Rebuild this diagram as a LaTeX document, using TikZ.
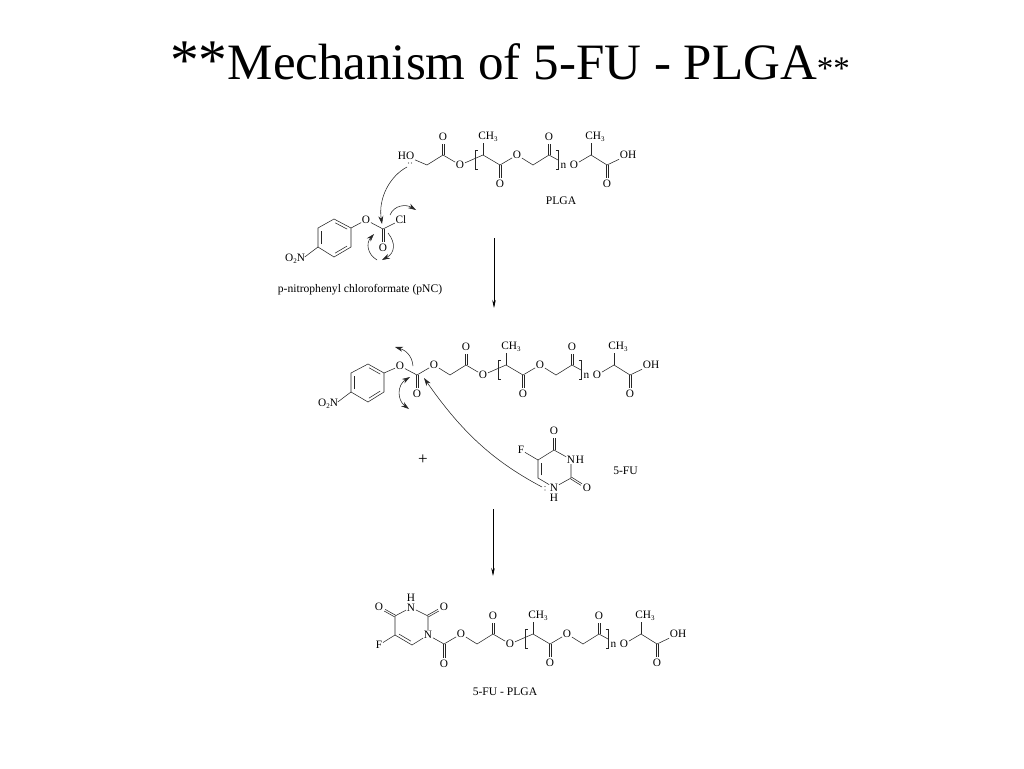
\documentclass[tikz,border=0pt]{standalone}
\usepackage{fontspec}
\setmainfont{Liberation Serif}
\usetikzlibrary{arrows.meta,calc}
\newcommand{\chemfont}{\fontsize{11.3}{12}\selectfont}
\newcommand{\sbs}[1]{\raisebox{-2.2pt}{\fontsize{7}{8}\selectfont #1}}
\newcommand{\dblbond}[2]{%
  \draw[bond,shorten >=6.5pt] ($(#1)!0.95pt!90:(#2)$) -- ($(#2)!0.95pt!-90:(#1)$);
  \draw[bond,shorten >=6.5pt] ($(#1)!0.95pt!-90:(#2)$) -- ($(#2)!0.95pt!90:(#1)$);}
\newcommand{\ringline}[2]{%
  \draw[bond] ($(#1)!.15!(#2)!2.8pt!-90:(#2)$) -- ($(#2)!.15!(#1)!2.8pt!90:(#1)$);}
\tikzset{
  atom/.style={inner sep=0.6pt,font=\chemfont},
  lab/.style={inner sep=0pt,font=\fontsize{11.6}{13}\selectfont},
  bond/.style={line width=.55pt,draw=black!85},
  brk/.style={line width=.55pt,draw=black!85},
  lonepair/.style={fill=black!70,draw=none},
  curly/.style={line width=.55pt,draw=black!85,-{Stealth[length=8pt,width=5pt]}},
  curlyboth/.style={line width=.55pt,draw=black!85,{Stealth[length=8pt,width=5pt]}-{Stealth[length=8pt,width=5pt]}},
  rxn/.style={line width=.6pt,draw=black,-{Stealth[length=8pt,width=3.5pt]}},
  chain/.pic={
    \node[atom] (-o1) at (0,0) {O};
    \coordinate (-ch2a) at (-33,0);
    \coordinate (-ca) at (-17,-10);
    \node[atom] (-oa) at (-17,-28) {O};
    \coordinate (-ch) at (23,-10);
    \node[atom] (-me) at (28,-28) {CH\sbs{3}};
    \coordinate (-cb) at (40,0);
    \node[atom] (-ob) at (40,19) {O};
    \node[atom] (-o2) at (57,-10) {O};
    \coordinate (-ch2b) at (73,0);
    \coordinate (-cc) at (89,-10);
    \node[atom] (-oc) at (89,-28) {O};
    \coordinate (-br) at (98,-5);
    \node[atom] (-n) at (103.5,1) {n};
    \node[atom] (-o3) at (114,0) {O};
    \coordinate (-ch3) at (131,-10);
    \node[atom] (-me2) at (135,-28) {CH\sbs{3}};
    \coordinate (-cd) at (147,0);
    \node[atom] (-od) at (147,19) {O};
    \node[atom] (-oh) at (168,-10) {OH};
    \draw[bond] (-ch2a) -- (-ca) -- (-o1) -- (-ch) -- (-cb) -- (-o2) -- (-ch2b) -- (-cc) -- (-br);
    \draw[bond] (-o3) -- (-ch3) -- (-cd) -- (-oh);
    \draw[bond] (-ch) -- (-ch |- -me.south);
    \draw[bond] (-ch3) -- (-ch3 |- -me2.south);
    \dblbond{-ca}{-oa}
    \dblbond{-cb}{-ob}
    \dblbond{-cc}{-oc}
    \dblbond{-cd}{-od}
    \draw[brk] (17.5,-15) -- (15,-15) -- (15,4) -- (17.5,4);
    \draw[brk] (95.5,-15) -- (98,-15) -- (98,4) -- (95.5,4);
  }
}
\begin{document}
\begin{tikzpicture}[x=1pt,y=-1pt]
\useasboundingbox (0,0) rectangle (1024,768);
\fill[white] (0,0) rectangle (1024,768);

% title
\node[inner sep=0pt,anchor=base west] (title) at (170,79) {\fontsize{57.5}{60}\selectfont **\fontsize{51}{56}\selectfont Mechanism of 5-FU - PLGA\fontsize{33}{36}\selectfont **};

% ---- top chain
\pic (t) at (460,165) {chain};
\node[atom] (ho) at (406,156) {HO};
\draw[bond] (ho) -- (t-ch2a);
\node[lab] (plga) at (561,201) {PLGA};
\fill[lonepair] (408.5,163) circle (.55pt) (411.5,163) circle (.55pt);

% pNC
\coordinate (a1) at (334,219);
\coordinate (a2) at (351,228);
\coordinate (a3) at (351,247);
\coordinate (a4) at (334,257);
\coordinate (a5) at (318,247);
\coordinate (a6) at (318,228);
\node[atom] (ano2) at (295,259) {O\sbs{2}N};
\node[atom] (ao) at (366,220) {O};
\coordinate (ac) at (383,229);
\node[atom] (aoc) at (383,248) {O};
\node[atom] (acl) at (401,220) {Cl};
\draw[bond] (a1) -- (a2) -- (a3) -- (a4) -- (a5) -- (a6) -- cycle;
\ringline{a1}{a2}
\ringline{a3}{a4}
\ringline{a5}{a6}
\draw[bond] (ano2.east) ++(-1,-2) -- (a5);
\draw[bond] (a2) -- (ao) -- (ac) -- (acl);
\dblbond{ac}{aoc}
\node[lab] (pnc) at (360,290) {p-nitrophenyl chloroformate (pNC)};

\coordinate (af1) at (407,167);
\coordinate (af2) at (382,224);
\coordinate (ag1) at (390,215);
\coordinate (ag2) at (416,210);
\coordinate (ah1) at (377,260);
\coordinate (ah2) at (374,234);
\coordinate (ai1) at (388,233);
\coordinate (ai2) at (382,260);
\draw[curly] (af1) .. controls (390,176) and (378,198) .. (af2);
\draw[curly] (ag1) .. controls (394,205) and (406,204) .. (ag2);
\draw[curly] (ah1) .. controls (367,254) and (366,243) .. (ah2);
\draw[curly] (ai1) .. controls (396,243) and (395,253) .. (ai2);

% arrow 1
\coordinate (r1a) at (494,238);
\coordinate (r1b) at (494,308);
\draw[rxn] (r1a) -- (r1b);

% ---- middle chain
\pic (m) at (483,375) {chain};
\coordinate (b1) at (368,364);
\coordinate (b2) at (384,373);
\coordinate (b3) at (384,392);
\coordinate (b4) at (368,402);
\coordinate (b5) at (351,392);
\coordinate (b6) at (351,373);
\node[atom] (bno2) at (328,404) {O\sbs{2}N};
\node[atom] (bo) at (400,366) {O};
\coordinate (bc) at (417,375);
\node[atom] (boc) at (417,394) {O};
\node[atom] (bo2) at (434,365) {O};
\draw[bond] (b1) -- (b2) -- (b3) -- (b4) -- (b5) -- (b6) -- cycle;
\ringline{b1}{b2}
\ringline{b3}{b4}
\ringline{b5}{b6}
\draw[bond] (bno2.east) ++(-1,-2) -- (b5);
\draw[bond] (b2) -- (bo) -- (bc) -- (bo2) -- (m-ch2a);
\dblbond{bc}{boc}

\coordinate (bf1) at (413,366);
\coordinate (bf2) at (395,347);
\coordinate (bg1) at (410,377);
\coordinate (bg2) at (409,409);
\draw[curly] (bf1) .. controls (412,355) and (405,350) .. (bf2);
\draw[curlyboth] (bg1) .. controls (397,385) and (397,400) .. (bg2);

\node[font=\fontsize{17}{18}\selectfont,inner sep=0pt] (plus) at (423,460) {+};

% 5-FU
\node[atom] (fo4) at (554,431) {O};
\coordinate (fc4) at (554,450);
\node[atom] (fn3) at (571,459.5) {N};
\node[atom] (fh3) at (580,459.5) {H};
\coordinate (fc2) at (571,478);
\node[atom] (fo2) at (587,488) {O};
\node[atom] (fn1) at (554,487.5) {N};
\node[atom] (fh) at (554,497.5) {H};
\coordinate (fc6) at (538,478);
\coordinate (fc5) at (538,460);
\node[atom] (ff) at (521,450) {F};
\node[lab] (fulab) at (625.5,471) {5-FU};
\draw[bond] (fc4) -- (fn3) -- (fc2) -- (fn1) -- (fc6);
\draw[bond] (fc6) -- (fc5) -- (fc4);
\draw[bond] (fc5) -- (ff);
\dblbond{fc4}{fo4}
\dblbond{fc2}{fo2}
\ringline{fc6}{fc5}
\fill[lonepair] (545,486.5) circle (.55pt) (545,490) circle (.55pt);
\coordinate (ff1) at (542,487);
\coordinate (ff2) at (424,378);
\draw[curly] (ff1) .. controls (495,462) and (463,434) .. (ff2);

% arrow 2
\coordinate (r2a) at (493,509);
\coordinate (r2b) at (493,576);
\draw[rxn] (r2a) -- (r2b);

% ---- bottom chain
\pic (b) at (510,644) {chain};
\node[atom] (un3) at (411,607.5) {N};
\node[atom] (uh) at (411,597.5) {H};
\node[atom] (uo4) at (379,607) {O};
\coordinate (uc4) at (395,616);
\coordinate (uc2) at (428,616);
\node[atom] (uo2) at (444,607) {O};
\node[atom] (un1) at (428,635) {N};
\coordinate (uc6) at (412,645);
\coordinate (uc5) at (395,635);
\node[atom] (uf) at (379,645) {F};
\coordinate (uc) at (444,644);
\node[atom] (uoc) at (444,664) {O};
\node[atom] (uo) at (461,634) {O};
\draw[bond] (uc4) -- (un3) -- (uc2) -- (un1) -- (uc6) -- (uc5) -- (uc4);
\dblbond{uc4}{uo4}
\dblbond{uc2}{uo2}
\draw[bond] (uc5) -- (uf);
\draw[bond] ($(uc5)!.15!(uc6)!2.8pt!90:(uc6)$) -- ($(uc6)!.15!(uc5)!2.8pt!-90:(uc5)$);
\draw[bond] (un1) -- (uc) -- (uo) -- (b-ch2a);
\dblbond{uc}{uoc}
\node[lab] (fplga) at (505,692) {5-FU - PLGA};
\end{tikzpicture}
\end{document}
